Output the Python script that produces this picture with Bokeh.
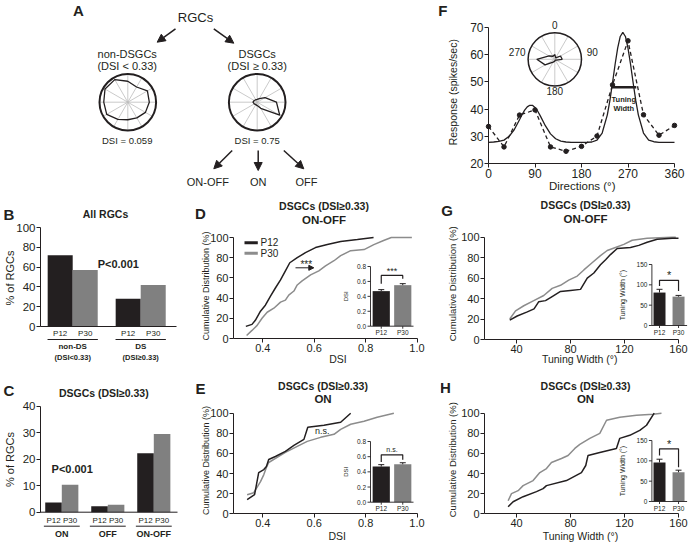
import math
import numpy as np
from bokeh.plotting import figure
from bokeh.models import Range1d, FixedTicker, Arrow, NormalHead, PrintfTickFormatter
from bokeh.layouts import column, row
from bokeh.embed import file_html
from bokeh.resources import INLINE
from bokeh.core.properties import value

FONT = "Liberation Sans"
INK = "#231f20"
GREY = "#808080"
LINE_GREY = "#8c8c8c"
SPOKE = "#bdbdbd"

# ---------------- data ----------------
ages = ["P12", "P30"]

# A: example polar tuning (relative radius per direction)
a_dirs = [0, 30, 60, 90, 120, 150, 180, 210, 240, 270, 300, 330]
a_nonds_r = [0.74, 0.62, 0.80, 0.76, 0.72, 0.64, 0.62, 0.70, 0.86, 0.85, 0.93, 0.92]
a_ds_r = [0.10, 0.15, 0.32, 0.68, 0.92, 0.25, 0.12, 0.10, 0.12, 0.15, 0.12, 0.10]
a_dsi = ["DSI = 0.059", "DSI = 0.75"]
a_types = ["ON-OFF", "ON", "OFF"]

# F: tuning curve
f_dir = [0, 30, 60, 90, 120, 150, 180, 210, 240, 270, 300, 330, 360]
f_resp = [33.6, 26.1, 37.8, 39.7, 26.1, 24.5, 26.3, 30.1, 48.9, 65.1, 37.9, 30.4, 34.0]
f_fit_dir = [0, 10, 20, 30, 40, 50, 60, 65, 70, 75, 80, 85, 90, 95, 100, 110, 120, 130, 140,
             150, 160, 170, 180, 190, 200, 210, 220, 230, 235, 240, 245, 250, 255, 260, 265,
             270, 275, 280, 285, 290, 300, 310, 320, 330, 340, 350, 360]
f_fit = [27.8, 27.9, 28.1, 28.6, 30.0, 32.5, 36.1, 38.0, 39.6, 40.8, 41.4, 41.4, 40.6, 39.3,
         37.6, 33.9, 30.9, 29.1, 28.2, 27.9, 27.8, 27.8, 27.8, 27.8, 27.9, 28.6, 31.2, 37.9,
         43.2, 49.6, 56.4, 62.4, 66.7, 68.2, 66.7, 62.4, 56.4, 49.6, 43.2, 37.9, 31.2, 28.6,
         28.0, 27.8, 27.8, 27.8, 27.8]
f_xticks = [0, 90, 180, 270, 360]
f_yticks = [20, 30, 40, 50, 60, 70]
f_tw_dir = [238, 286]
f_tw_level = 48
f_polar_labels = ["0", "90", "180", "270"]

# B
b_groups = ["non-DS", "DS"]
b_groups_sub = ["(DSI<0.33)", "(DSI\u22650.33)"]
b_p12 = [72, 28]
b_p30 = [57, 42]
b_yticks = [0, 20, 40, 60, 80, 100]

# C
c_groups = ["ON", "OFF", "ON-OFF"]
c_p12 = [3.7, 2.2, 22.2]
c_p30 = [10.4, 2.8, 29.5]
c_yticks = [0, 10, 20, 30, 40]

cum_ticks = [0, 20, 40, 60, 80, 100]
dsi_ticks = [0.4, 0.6, 0.8, 1.0]
tw_ticks = [40, 80, 120, 160]
dsi_inset_ticks = [0.0, 0.2, 0.4, 0.6, 0.8]
dsi_inset_labels = ["0.0", "0.2", "0.4", "0.6", "0.8"]
tw_inset_ticks = [0, 50, 100, 150]
tw_inset_labels = ["0", "50", "100", "150"]

# D: ON-OFF DSI cumulative
d_p12_x = [0.334, 0.358, 0.371, 0.391, 0.410, 0.430, 0.449, 0.469, 0.488, 0.505, 0.534, 0.566,
           0.605, 0.651, 0.703, 0.768, 0.831]
d_p12_y = [12, 14, 18, 27, 33, 42, 50, 58, 67, 75, 80, 85, 90, 93, 96, 98, 100]
d_p30_x = [0.337, 0.358, 0.378, 0.397, 0.417, 0.443, 0.469, 0.488, 0.501, 0.521, 0.534, 0.553,
           0.586, 0.618, 0.644, 0.677, 0.703, 0.742, 0.794, 0.832, 0.870, 0.900, 0.980]
d_p30_y = [3, 8, 13, 20, 26, 30, 36, 38, 43, 47, 53, 57, 63, 67, 72, 77, 82, 87, 88, 93, 97, 100, 100]
d_bar = [0.47, 0.55]
d_err = [0.02, 0.02]

# E: ON DSI cumulative
e_p12_x = [0.339, 0.368, 0.384, 0.404, 0.414, 0.423, 0.449, 0.488, 0.521, 0.560, 0.575, 0.638, 0.703, 0.742]
e_p12_y = [14, 19, 41, 44, 47, 54, 57, 62, 68, 74, 86, 88, 91, 100]
e_p30_x = [0.339, 0.365, 0.391, 0.404, 0.414, 0.423, 0.456, 0.488, 0.534, 0.573, 0.625, 0.677,
           0.703, 0.742, 0.794, 0.845, 0.910]
e_p30_y = [19, 21, 32, 39, 46, 51, 56, 61, 67, 72, 76, 79, 84, 89, 92, 96, 100]
e_bar = [0.47, 0.50]
e_err = [0.025, 0.02]

# G: ON-OFF tuning width cumulative
g_p12_x = [35, 40.5, 48, 53, 56.5, 61.5, 66.4, 72.6, 80, 87.4, 92.4, 97.3, 102.2, 106, 109.6,
           114.6, 124.4, 130.6, 136.8, 144.2, 155.3, 160]
g_p12_y = [19, 23, 27, 30, 37, 38, 42, 47, 48, 49, 60, 65, 73, 78, 83, 89, 90, 92, 95, 98, 99, 99]
g_p30_x = [35, 39.3, 45.4, 52.8, 60.2, 66.4, 72.6, 78.7, 85, 89.9, 96, 102.2, 107.2, 113.3,
           119.5, 125.7, 136.8, 155.3, 158]
g_p30_y = [20, 28, 33, 38, 43, 50, 53, 58, 62, 68, 75, 82, 87, 90, 93, 97, 99, 100, 100]
g_bar = [81, 71]
g_err = [8, 3]

# H: ON tuning width cumulative
h_p12_x = [33.8, 37.5, 44.9, 54.8, 59.7, 62.2, 77, 88.1, 91.3, 93, 101.7, 114, 116.5, 123.9,
           131.3, 136.3, 142]
h_p12_y = [7, 12, 17, 22, 25, 28, 33, 41, 48, 58, 61, 65, 75, 78, 83, 88, 100]
h_p30_x = [33.8, 36.3, 41.2, 44.9, 52.3, 57.3, 62.2, 65.9, 73.3, 78.2, 83.2, 86.9, 94.3, 101.7,
           106.7, 116.5, 128.9, 141.2, 147.4]
h_p30_y = [13, 20, 23, 28, 33, 41, 45, 51, 55, 58, 65, 69, 75, 80, 93, 96, 98, 99, 100]
h_bar = [96, 72]
h_err = [8, 5]


# ---------------- helpers ----------------
def txt(p, xs, ys, texts, size, bold=False, align="center", angle=0.0, **kw):
    p.text(x=xs, y=ys, text=texts, text_font=value(FONT), text_font_size=f"{size}px",
           text_font_style="bold" if bold else "normal", text_align=align,
           text_baseline="middle", text_color=INK, angle=angle, **kw)


class Panel:
    """A figure whose frame fills its cell; (pixel, value) anchors set the scales."""

    def __init__(self, cell, xmap, ymap, xaxis=True, yaxis=True):
        l, t, w, h = cell
        self.cell = cell
        self.xmap, self.ymap = xmap, ymap
        self.kx = (xmap[3] - xmap[1]) / (xmap[2] - xmap[0])
        self.ky = (ymap[3] - ymap[1]) / (ymap[2] - ymap[0])
        self.xr = (self.fx(l), self.fx(l + w))
        self.yr = (self.fy(t + h), self.fy(t))
        kw = dict(frame_width=w, frame_height=h, min_border=0, title=None,
                  x_range=Range1d(*self.xr), y_range=Range1d(*self.yr),
                  output_backend="svg", toolbar_location=None, tools="")
        if not xaxis:
            kw["x_axis_location"] = None
        if not yaxis:
            kw["y_axis_location"] = None
        p = figure(**kw)
        p.outline_line_color = None
        p.grid.visible = False
        p.background_fill_color = "white"
        p.border_fill_color = "white"
        self.p = p

    def fx(self, px):
        return self.xmap[1] + (px - self.xmap[0]) * self.kx

    def fy(self, py):
        return self.ymap[1] + (py - self.ymap[0]) * self.ky

    def text(self, rx, ry, s, size, bold=False, angle=0.0, align="center"):
        txt(self.p, [self.fx(rx)], [self.fy(ry)], [s], size, bold=bold, align=align, angle=angle)


def style_axes(p, tick_size="11px"):
    for ax in p.axis:
        ax.axis_line_color = INK
        ax.axis_line_width = 1
        ax.major_tick_line_color = INK
        ax.major_tick_out = 4
        ax.major_tick_in = 0
        ax.minor_tick_line_color = None
        ax.major_label_text_font = FONT
        ax.major_label_text_font_size = tick_size
        ax.major_label_text_color = INK
        ax.major_label_standoff = 1


def add_inset(P, xa, ya, means, errs, yticks, ylabels, ylabel, ylabel_size, ylabel_dx,
              bar_w, bracket, sig, sig_size, sig_y):
    p = P.p
    l, t, w, h = P.cell
    kx = (xa[2] - xa[0]) / (xa[3] - xa[1])
    ky = (ya[2] - ya[0]) / (ya[3] - ya[1])
    gx = lambda px: xa[0] + (px - xa[1]) * kx
    gy = lambda py: ya[0] + (py - ya[1]) * ky
    p.extra_x_ranges = {"ix": Range1d(gx(l), gx(l + w))}
    p.extra_y_ranges = {"iy": Range1d(gy(t + h), gy(t))}
    ux, uy = abs(kx), abs(ky)          # inset units per pixel
    ix0, ix1, iy0 = xa[0], xa[2], ya[0]
    kw = dict(x_range_name="ix", y_range_name="iy")
    xs = [1, 2]
    p.vbar(x=xs, top=means, bottom=0, width=bar_w, fill_color=[INK, GREY], line_color=None, **kw)
    tops = [m + e for m, e in zip(means, errs)]
    p.segment(x0=xs, y0=means, x1=xs, y1=tops, line_color=INK, line_width=1, **kw)
    p.segment(x0=[x - 3 * ux for x in xs], y0=tops, x1=[x + 3 * ux for x in xs], y1=tops,
              line_color=INK, line_width=1, **kw)
    p.segment(x0=[ix0, ix0], y0=[iy0, iy0], x1=[ix0, ix1], y1=[yticks[-1], iy0],
              line_color=INK, line_width=0.9, **kw)
    n = len(yticks)
    p.segment(x0=[ix0 - 3 * ux] * n, y0=yticks, x1=[ix0] * n, y1=yticks,
              line_color=INK, line_width=0.9, **kw)
    p.segment(x0=xs, y0=[iy0, iy0], x1=xs, y1=[iy0 - 2.5 * uy] * 2,
              line_color=INK, line_width=0.9, **kw)
    txt(p, [ix0 - 4.5 * ux] * n, yticks, ylabels, 6.5, align="right", **kw)
    txt(p, xs, [iy0 - 6.5 * uy] * 2, ages, 6.5, **kw)
    txt(p, [ix0 + ylabel_dx * ux], [(iy0 + yticks[-1]) / 2], [ylabel], ylabel_size,
        angle=math.pi / 2, **kw)
    bl, bt, br = bracket
    p.line(x=[1, 1, 2, 2], y=[bl, bt, bt, br], line_color=INK, line_width=1.2, **kw)
    txt(p, [1.5], [sig_y], [sig], sig_size, **kw)


# ---------------- panel A ----------------
A = Panel((0, 0, 360, 195), (0, 0, 1, 1), (0, 0, 1, 1), xaxis=False, yaxis=False)
pA = A.p
A.text(78, 10, "A", 15, bold=True)
A.text(195, 17.3, "RGCs", 13)
A.text(126.7, 53.3, "non-DSGCs", 11)
A.text(256.7, 53.3, "DSGCs", 11)
A.text(126.7, 65.7, "(DSI < 0.33)", 11)
A.text(256.7, 65.7, "(DSI \u2265 0.33)", 11)
A.text(126.7, 140, a_dsi[0], 9.5)
A.text(256.7, 140, a_dsi[1], 9.5)
for x_, t_ in zip([207.3, 257.7, 306], a_types):
    A.text(x_, 181.7, t_, 11)
RA = 28.3
spoke_th = np.radians(np.arange(0, 360, 30))
for cx, radii in ((127.3, a_nonds_r), (256.7, a_ds_r)):
    cy = 101.7
    pA.segment(x0=[cx] * 12, y0=[cy] * 12, x1=cx + RA * np.sin(spoke_th),
               y1=cy - RA * np.cos(spoke_th), line_color=SPOKE, line_width=0.8)
    th = np.radians(a_dirs + [a_dirs[0]])
    rr = np.array(radii + [radii[0]]) * RA
    pA.line(cx + rr * np.sin(th), cy - rr * np.cos(th), line_color=INK, line_width=1.3)
    pA.circle(x=[cx], y=[cy], radius=RA, fill_color=None, line_color=INK, line_width=2)
for (x0, y0, x1, y1) in [(175, 28.3, 156.7, 41.7), (213.3, 28.3, 233.3, 42.7),
                         (231.7, 150, 213.3, 168.3), (257.7, 150, 257.7, 170),
                         (283.3, 150, 303.3, 168.3)]:
    pA.add_layout(Arrow(end=NormalHead(size=8, fill_color=INK, line_color=INK),
                        x_start=x0, y_start=y0, x_end=x1, y_end=y1,
                        line_color=INK, line_width=1.5))

# ---------------- panel F ----------------
F = Panel((360, 0, 330, 195), (488, 0, 674, 360), (163, 20, 27, 70))
pF = F.p
pF.xaxis.ticker = FixedTicker(ticks=f_xticks)
pF.xaxis.fixed_location = 20
pF.xaxis.bounds = (0, 360)
pF.yaxis.ticker = FixedTicker(ticks=f_yticks)
pF.yaxis.fixed_location = 0
pF.yaxis.bounds = (20, 70)
style_axes(pF, "12px")
pF.line(f_fit_dir, f_fit, line_color=INK, line_width=1.3)
pF.line(f_dir, f_resp, line_color=INK, line_width=1.3, line_dash="4 3")
pF.scatter(f_dir, f_resp, size=4.5, color=INK)
pF.segment(x0=[f_tw_dir[0]], y0=[f_tw_level], x1=[f_tw_dir[1]], y1=[f_tw_level],
           line_color=INK, line_width=2.5)
F.text(623.3, 99.3, "Tuning", 7.5, bold=True)
F.text(623.3, 108.3, "Width", 7.5, bold=True)
F.text(442.3, 10, "F", 15, bold=True)
F.text(452.5, 91.7, "Response (spikes/sec)", 10.5, angle=math.pi / 2)
F.text(581.7, 185.7, "Directions (\u00b0)", 11.5)
# polar inset (unit = circle radius)
PCX, PCY, RP = 554.3, 58.8, 26.7
pF.extra_x_ranges = {"px": Range1d((360 - PCX) / RP, (690 - PCX) / RP)}
pF.extra_y_ranges = {"py": Range1d(-(195 - PCY) / RP, PCY / RP)}
pk = dict(x_range_name="px", y_range_name="py")
pF.segment(x0=[0] * 12, y0=[0] * 12, x1=np.sin(spoke_th), y1=np.cos(spoke_th),
           line_color=SPOKE, line_width=0.8, **pk)
pol_dirs = f_dir[:-1] + [f_dir[0]]
pol_r = [(v - 22) / 48 * 0.75 for v in f_resp[:-1]]
pol_r = pol_r + [pol_r[0]]
pth = np.radians(pol_dirs)
pF.line(np.array(pol_r) * np.sin(pth), np.array(pol_r) * np.cos(pth),
        line_color=INK, line_width=1.3, **pk)
pF.circle(x=[0], y=[0], radius=1, fill_color=None, line_color=INK, line_width=1.5, **pk)
for t_, (rx, ry) in zip(f_polar_labels, [(554.3, 24), (591.7, 51.7), (554.3, 90), (516.7, 51.7)]):
    F.text(rx, ry, t_, 10)

# ---------------- panel B ----------------
B = Panel((0, 195, 190, 170), (72.2, 0, 140.2, 1), (326, 0, 227, 100), xaxis=False)
pB = B.p
pB.yaxis.ticker = FixedTicker(ticks=b_yticks)
pB.yaxis.fixed_location = B.fx(40)
pB.yaxis.bounds = (0, 100)
style_axes(pB, "11.5px")
xg = np.arange(len(b_groups))
pB.vbar(x=xg - 0.184, top=b_p12, width=0.368, fill_color=INK, line_color=None)
pB.vbar(x=xg + 0.184, top=b_p30, width=0.368, fill_color=GREY, line_color=None)
pB.segment(x0=[B.fx(40)], y0=[0], x1=[B.fx(176)], y1=[0], line_color=INK, line_width=1)
txt(pB, list(xg - 0.184) + list(xg + 0.184), [B.fy(332.5)] * 4, [ages[0]] * 2 + [ages[1]] * 2, 8)
pB.segment(x0=xg - 0.37, y0=[B.fy(339)] * 2, x1=xg + 0.37, y1=[B.fy(339)] * 2, line_color=INK, line_width=1)
txt(pB, list(xg), [B.fy(346)] * 2, b_groups, 8, bold=True)
txt(pB, list(xg), [B.fy(356.5)] * 2, b_groups_sub, 7.5, bold=True)
B.text(117.8, 263, "P<0.001", 11, bold=True)
B.text(8.5, 213.5, "B", 15, bold=True)
B.text(105, 213.3, "All RGCs", 10.5, bold=True)
B.text(9.2, 277.5, "% of RGCs", 11, angle=math.pi / 2)

# ---------------- panel C ----------------
C = Panel((0, 365, 190, 178), (61.3, 0, 107.3, 1), (511.7, 0, 405.7, 40), xaxis=False)
pC = C.p
pC.yaxis.ticker = FixedTicker(ticks=c_yticks)
pC.yaxis.fixed_location = C.fx(40)
pC.yaxis.bounds = (0, 40)
style_axes(pC, "11.5px")
xc = np.arange(len(c_groups))
pC.vbar(x=xc - 0.18, top=c_p12, width=0.36, fill_color=INK, line_color=None)
pC.vbar(x=xc + 0.18, top=c_p30, width=0.36, fill_color=GREY, line_color=None)
pC.segment(x0=[C.fx(40)], y0=[0], x1=[C.fx(177)], y1=[0], line_color=INK, line_width=1)
txt(pC, list(xc - 0.18) + list(xc + 0.18), [C.fy(520)] * 6, [ages[0]] * 3 + [ages[1]] * 3, 8)
pC.segment(x0=xc - 0.39, y0=[C.fy(525.7)] * 3, x1=xc + 0.39, y1=[C.fy(525.7)] * 3, line_color=INK, line_width=1)
txt(pC, list(xc), [C.fy(533.5)] * 3, c_groups, 9, bold=True)
C.text(71.7, 468.8, "P<0.001", 11, bold=True)
C.text(8.5, 390, "C", 15, bold=True)
C.text(103.3, 392, "DSGCs (DSI\u22650.33)", 10.5, bold=True)
C.text(9.2, 459, "% of RGCs", 11, angle=math.pi / 2)


# ---------------- cumulative panels ----------------
def cum_panel(cell, xmap, ymap, axis_px, xticks, xend, p12x, p12y, p30x, p30y, xfmt=None):
    P = Panel(cell, xmap, ymap)
    p = P.p
    x0 = P.fx(axis_px)
    p.xaxis.ticker = FixedTicker(ticks=xticks)
    if xfmt:
        p.xaxis.formatter = PrintfTickFormatter(format=xfmt)
    p.xaxis.fixed_location = 0
    p.xaxis.bounds = (x0, xend)
    p.yaxis.ticker = FixedTicker(ticks=cum_ticks)
    p.yaxis.fixed_location = x0
    p.yaxis.bounds = (0, 100)
    style_axes(p, "11px")
    p.line(p30x, p30y, line_color=LINE_GREY, line_width=1.5)
    p.line(p12x, p12y, line_color=INK, line_width=1.5)
    return P


def titles(P, lx, ly, letter, tx, ty1, ty2, line2, ylx, yly, ylsize, xlx, xly, xlabel):
    P.text(lx, ly, letter, 15, bold=True)
    P.text(tx, ty1, "DSGCs (DSI\u22650.33)", 10.5, bold=True)
    P.text(tx, ty2, line2, 11.5, bold=True)
    P.text(ylx, yly, "Cumulative Distribution (%)", ylsize, angle=math.pi / 2)
    P.text(xlx, xly, xlabel, 10.5)


DSI_X = (262.3, 0.4, 365.1, 0.8)
TW_X = (516, 40, 678, 160)

D = cum_panel((190, 195, 250, 170), DSI_X, (338, 0, 237, 100), 233, dsi_ticks, 1.0,
              d_p12_x, d_p12_y, d_p30_x, d_p30_y, xfmt="%.1f")
pD = D.p
# legend
pD.segment(x0=[D.fx(244)] * 2, y0=[D.fy(242.3), D.fy(252.7)], x1=[D.fx(257.3)] * 2,
           y1=[D.fy(242.3), D.fy(252.7)], line_color=[INK, LINE_GREY], line_width=3)
D.text(260, 242.3, ages[0], 10, align="left")
D.text(260, 252.7, ages[1], 10, align="left")
pD.add_layout(Arrow(end=NormalHead(size=5, fill_color=INK, line_color=INK, line_width=1),
                    x_start=D.fx(295), y_start=D.fy(267.3), x_end=D.fx(313.3), y_end=D.fy(267.3),
                    line_color=INK, line_width=1))
D.text(305.8, 264, "***", 10)
add_inset(D, (0.5, 370, 2.5, 413), (0, 325.7, 0.8, 266), d_bar, d_err, dsi_inset_ticks,
          dsi_inset_labels, "DSI", 6, -25, 0.8, (0.57, 0.68, 0.635), "***", 9, 0.745)
titles(D, 200, 212.5, "D", 323.5, 205.8, 219.7, "ON-OFF", 205, 285.5, 9, 337.5, 358.3, "DSI")

E = cum_panel((190, 365, 250, 178), DSI_X, (513.3, 0, 412.7, 100), 233, dsi_ticks, 1.0,
              e_p12_x, e_p12_y, e_p30_x, e_p30_y, xfmt="%.1f")
E.text(321.7, 430, "n.s.", 9)
add_inset(E, (0.5, 370, 2.5, 413), (0, 501.7, 0.8, 441), e_bar, e_err, dsi_inset_ticks,
          dsi_inset_labels, "DSI", 6, -25, 0.8, (0.53, 0.625, 0.56), "n.s.", 7, 0.69)
titles(E, 200, 388.3, "E", 322.5, 385.8, 398.5, "ON", 205, 460, 9, 336.7, 535.5, "DSI")

G = cum_panel((440, 195, 250, 170), TW_X, (339, 0, 236.7, 100), 484, tw_ticks, 160,
              g_p12_x, g_p12_y, g_p30_x, g_p30_y)
add_inset(G, (0.6, 651.4, 2.45, 686.6), (0, 325, 150, 264), g_bar, g_err, tw_inset_ticks,
          tw_inset_labels, "Tuning Width (\u00b0)", 7, -29, 0.63, (97, 111, 85), "*", 11, 124)
titles(G, 446.7, 210, "G", 585, 204.2, 218.3, "ON-OFF", 451.7, 283.3, 9.5, 579.2, 358.3,
       "Tuning Width (\u00b0)")

H = cum_panel((440, 365, 250, 178), TW_X, (513.3, 0, 412.7, 100), 484, tw_ticks, 160,
              h_p12_x, h_p12_y, h_p30_x, h_p30_y)
add_inset(H, (0.6, 651.4, 2.45, 686.6), (0, 501, 150, 440), h_bar, h_err, tw_inset_ticks,
          tw_inset_labels, "Tuning Width (\u00b0)", 7, -29, 0.63, (113, 129.5, 84), "*", 11, 142)
titles(H, 445, 386.7, "H", 585, 385.8, 398.7, "ON", 451.7, 459.2, 9.5, 580, 535.8,
       "Tuning Width (\u00b0)")

layout = column(row(A.p, F.p),
                row(column(B.p, C.p), column(D.p, E.p), column(G.p, H.p)))
open("out.html", "w").write(file_html(layout, INLINE))
